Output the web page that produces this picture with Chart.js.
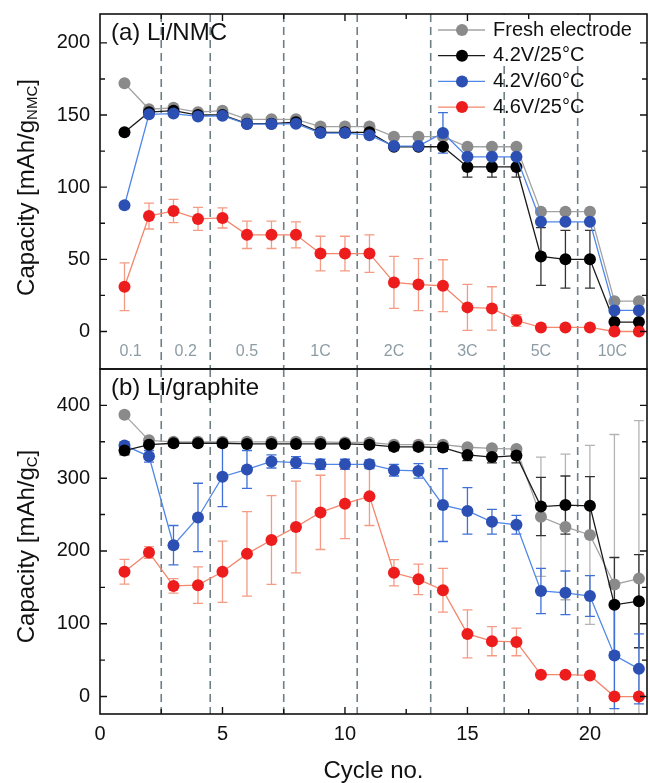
<!DOCTYPE html>
<html>
<head>
<meta charset="utf-8">
<script src="https://cdn.jsdelivr.net/npm/chart.js@4.4.1/dist/chart.umd.min.js"></script>
<style>
  body { margin: 0; background: #fff; }
  #wrap { position: relative; width: 650px; height: 783px; }
  canvas { position: absolute; left: 0; }
</style>
</head>
<body>
<div id="wrap">
  <canvas id="chartNMC" width="650" height="372" style="top:0"></canvas>
  <canvas id="chartGraphite" width="650" height="423" style="top:360px"></canvas>
</div>
<script>
// cycle numbers and C-rate groups
const cycles = [1, 2, 3, 4, 5, 6, 7, 8, 9, 10, 11, 12, 13, 14, 15, 16, 17, 18, 19, 20, 21, 22];
const rateLabels = ["0.1", "0.2", "0.5", "1C", "2C", "3C", "5C", "10C"];
const cyclesPerRate = [2, 2, 3, 3, 3, 3, 3, 3];
const seriesNames = ["Fresh electrode", "4.2V/25°C", "4.2V/60°C", "4.6V/25°C"];

// (a) Li/NMC
const nmcFresh = [172, 154, 155, 152, 153, 147, 147, 147, 142, 142, 142, 135, 135, 135, 128, 128, 128, 83, 83, 83, 21, 21];
const nmcFreshErr = [0, 0, 0, 0, 0, 0, 0, 0, 0, 0, 0, 0, 0, 0, 0, 0, 0, 0, 0, 0, 0, 0];
const nmc42v25 = [138, 152, 153, 150, 150, 144, 144, 145, 138, 138, 138, 128, 128, 128, 114, 114, 114, 52, 50, 50, 6.5, 6.5];
const nmc42v25Err = [0, 0, 0, 0, 0, 0, 0, 0, 0, 0, 0, 0, 0, 0, 7, 7, 7, 20, 20, 20, 0, 0];
const nmc42v60 = [87.5, 150.5, 151, 149, 149.5, 143.7, 143.7, 144, 137.5, 137.5, 136, 128.5, 128.5, 137.6, 121, 121, 121, 76, 76, 76, 14.6, 14.6];
const nmc42v60Err = [0, 0, 0, 0, 0, 0, 0, 0, 0, 0, 0, 0, 0, 14, 0, 0, 0, 0, 0, 0, 0, 0];
const nmc46v25 = [31, 80, 83.5, 78, 78.7, 67, 67, 67, 54, 54, 54, 34, 32.5, 31.7, 16.7, 16, 7.6, 2.8, 2.8, 2.8, 0, 0];
const nmc46v25Err = [16.5, 9, 8, 8, 7, 9.5, 9.5, 9, 12, 12, 13, 18, 18, 18, 16, 15, 4, 0, 0, 0, 0, 0];
const nmcTicks = [0, 50, 100, 150, 200];

// (b) Li/graphite
const grFresh = [387, 352, 350, 350, 350, 350, 350, 350, 350, 349, 349, 346, 346, 346, 342.5, 341, 340, 247, 233, 222, 154, 162];
const grFreshErr = [4, 3, 3, 3, 3, 3, 3, 3, 3, 3, 3, 3, 3, 3, 3, 3, 3, 82, 100, 123, 206, 217];
const gr42v25 = [338, 346, 348, 348, 348, 347, 347, 347, 347, 347, 346, 343, 343, 342, 332, 329, 331, 261, 263, 262, 126, 131];
const gr42v25Err = [6, 4, 4, 4, 4, 4, 4, 4, 4, 4, 4, 5, 5, 5, 8, 8, 10, 40, 40, 40, 65, 64];
const gr42v60 = [345, 330, 208, 246, 302, 312, 323, 321.5, 319, 319, 319, 311, 310, 263, 255, 240, 236, 145, 142.5, 138, 56.5, 38];
const gr42v60Err = [5, 8, 27, 47, 41, 26, 9, 8, 7, 7, 6, 8, 10, 50, 32, 17, 13, 31, 30, 28, 73, 48];
const gr46v25 = [171.5, 198, 152, 153, 171.5, 196, 215, 233, 253, 265, 275, 170, 161, 146, 86, 76, 75, 30, 30, 29, 0, 0];
const gr46v25Err = [17, 8, 10, 25, 42, 58, 61, 63, 51, 48, 40, 18, 21, 30, 33, 20, 19, 0, 0, 0, 0, 0];
const graphiteTicks = [0, 100, 200, 300, 400];

const cycleTicks = [0, 5, 10, 15, 20];

const FONT = "'Liberation Sans', Arial, sans-serif";
const X_MAX = 22.33;

// line / marker / error colours per series
const styles = [
    { line: "#a3a3a3", marker: "#8a8a8a", err: "#b4b4b4" },
    { line: "#1a1a1a", marker: "#000000", err: "#333333" },
    { line: "#4f86e8", marker: "#2b4fb3", err: "#3f70d8" },
    { line: "#f4866c", marker: "#ee1d1d", err: "#f59b84" }
];

// rate boundaries (dashed lines) from the group sizes
const rateBounds = [];
let runSum = 0;
cyclesPerRate.slice(0, -1).forEach(n => { runSum += n; rateBounds.push(runSum + 0.5); });

const makeDataset = (i, values, errors, order) => ({
    label: seriesNames[i],
    data: cycles.map((c, j) => ({ x: c, y: values[j] })),
    errors: errors,
    errColor: styles[i].err,
    borderColor: styles[i].line,
    backgroundColor: styles[i].marker,
    pointBackgroundColor: styles[i].marker,
    pointBorderColor: styles[i].marker,
    pointRadius: 6,
    pointBorderWidth: 0,
    borderWidth: 1.3,
    tension: 0,
    order: order
});

// draws dashed lines, error bars, frame, inward ticks and texts
const panelPlugin = {
    id: "panelDecor",
    beforeDatasetsDraw(chart) {
        const { ctx, chartArea: a, scales: { x, y } } = chart;
        ctx.save();
        ctx.strokeStyle = "#6e7f86";
        ctx.lineWidth = 1.6;
        ctx.setLineDash([8, 5]);
        rateBounds.forEach(b => {
            const px = x.getPixelForValue(b);
            ctx.beginPath();
            ctx.moveTo(px, a.top);
            ctx.lineTo(px, a.bottom);
            ctx.stroke();
        });
        ctx.restore();

        // legend box hides the dashed lines behind the first rows
        if (chart.options.plugins.panelDecor.showLegend) {
            ctx.save();
            ctx.fillStyle = "#fff";
            ctx.fillRect(436, a.top + 1, a.right - 437, 50);
            ctx.restore();
        }

        ctx.save();
        ctx.beginPath();
        ctx.rect(a.left, a.top, a.right - a.left, a.bottom - a.top);
        ctx.clip();
        ctx.lineWidth = 1.3;
        chart.data.datasets.forEach(ds => {
            ctx.strokeStyle = ds.errColor;
            ds.data.forEach((p, j) => {
                const e = ds.errors[j];
                if (!e) return;
                const px = x.getPixelForValue(p.x);
                const yTop = y.getPixelForValue(p.y + e);
                const yBot = y.getPixelForValue(p.y - e);
                ctx.beginPath();
                ctx.moveTo(px, yTop); ctx.lineTo(px, yBot);
                ctx.moveTo(px - 5, yTop); ctx.lineTo(px + 5, yTop);
                ctx.moveTo(px - 5, yBot); ctx.lineTo(px + 5, yBot);
                ctx.stroke();
            });
        });
        ctx.restore();
    },
    afterDraw(chart, args, opts) {
        const { ctx, chartArea: a, scales: { x, y } } = chart;
        ctx.save();
        // frame
        ctx.strokeStyle = "#111";
        ctx.lineWidth = 1.6;
        ctx.strokeRect(a.left, a.top, a.right - a.left, a.bottom - a.top);

        // inward ticks
        ctx.lineWidth = 1.4;
        const yVals = y.ticks.map(t => t.value);
        const yMinor = yVals.slice(1).map((v, i) => (v + yVals[i]) / 2);
        const drawY = (v, len) => {
            const py = y.getPixelForValue(v);
            ctx.beginPath();
            ctx.moveTo(a.left, py); ctx.lineTo(a.left + len, py);
            ctx.moveTo(a.right, py); ctx.lineTo(a.right - len, py);
            ctx.stroke();
        };
        yVals.forEach(v => drawY(v, 7));
        yMinor.forEach(v => drawY(v, 5));
        const xMinor = cycleTicks.map(v => v + 2.5).filter(v => v < X_MAX);
        const drawX = (v, len) => {
            const px = x.getPixelForValue(v);
            const edge = opts.xTicksAt === "top" ? a.top : a.bottom;
            const dir = opts.xTicksAt === "top" ? 1 : -1;
            ctx.beginPath();
            ctx.moveTo(px, edge); ctx.lineTo(px, edge + dir * len);
            ctx.stroke();
        };
        cycleTicks.slice(1).forEach(v => drawX(v, 7));
        xMinor.forEach(v => drawX(v, 5));

        // panel title
        ctx.fillStyle = "#111";
        ctx.font = "24px " + FONT;
        ctx.textBaseline = "middle";
        ctx.textAlign = "left";
        ctx.fillText(opts.title, a.left + 11, a.top + 19);

        // y axis title with subscript
        const mainFont = "24px " + FONT, subFont = "15px " + FONT;
        const part1 = "Capacity [mAh/g", part3 = "]";
        ctx.font = mainFont;
        const w1 = ctx.measureText(part1).width, w3 = ctx.measureText(part3).width;
        ctx.font = subFont;
        const w2 = ctx.measureText(opts.ySub).width;
        const total = w1 + w2 + w3;
        ctx.translate(27, (a.top + a.bottom) / 2 + opts.yTitleShift);
        ctx.rotate(-Math.PI / 2);
        let tx = -total / 2;
        ctx.font = mainFont;
        ctx.fillText(part1, tx, 0);
        tx += w1;
        ctx.font = subFont;
        ctx.fillText(opts.ySub, tx, 6);
        tx += w2;
        ctx.font = mainFont;
        ctx.fillText(part3, tx, 0);
        ctx.restore();

        // C-rate labels
        if (opts.showRates) {
            ctx.save();
            ctx.fillStyle = "#8c9ca4";
            ctx.font = "16px " + FONT;
            ctx.textAlign = "center";
            ctx.textBaseline = "middle";
            rateLabels.forEach((lab, i) => {
                const lo = i === 0 ? 0 : rateBounds[i - 1];
                const hi = i < rateBounds.length ? rateBounds[i] : X_MAX;
                ctx.fillText(lab, x.getPixelForValue((lo + hi) / 2), a.bottom - 17);
            });
            ctx.restore();
        }

        // legend
        if (opts.showLegend) {
            ctx.save();
            ctx.font = "20px " + FONT;
            ctx.textBaseline = "middle";
            seriesNames.forEach((name, i) => {
                const ly = 30 + i * 25.7;
                ctx.strokeStyle = styles[i].line;
                ctx.lineWidth = 1.3;
                ctx.beginPath();
                ctx.moveTo(438, ly); ctx.lineTo(485, ly);
                ctx.stroke();
                ctx.fillStyle = styles[i].marker;
                ctx.beginPath();
                ctx.arc(462, ly, 6, 0, Math.PI * 2);
                ctx.fill();
                ctx.fillStyle = "#111";
                ctx.fillText(name, 493, ly);
            });
            ctx.restore();
        }
    }
};

const noPad = s => { s.paddingTop = 0; s.paddingBottom = 0; s.paddingLeft = 0; s.paddingRight = 0; };

const buildChart = (canvasId, cfg) => new Chart(document.getElementById(canvasId), {
    type: "line",
    data: { datasets: cfg.datasets },
    options: {
        responsive: false,
        animation: false,
        events: [],
        layout: { padding: cfg.padding, autoPadding: false },
        scales: {
            x: {
                type: "linear",
                min: 0,
                max: X_MAX,
                display: cfg.showX,
                afterBuildTicks: s => { s.ticks = cycleTicks.map(v => ({ value: v })); },
                afterFit: s => { noPad(s); if (cfg.showX) s.height = 69; },
                grid: { display: false, drawTicks: false },
                border: { display: false },
                ticks: { font: { family: FONT, size: 20 }, color: "#111", padding: 8, maxRotation: 0 },
                title: {
                    display: cfg.showX,
                    text: "Cycle no.",
                    font: { family: FONT, size: 24, lineHeight: 1 },
                    color: "#111",
                    padding: { top: 0, bottom: 0 }
                }
            },
            y: {
                type: "linear",
                min: cfg.yMin,
                max: cfg.yMax,
                afterBuildTicks: s => { s.ticks = cfg.yTicks.map(v => ({ value: v })); },
                afterFit: s => { noPad(s); s.width = 100; },
                grid: { display: false, drawTicks: false },
                border: { display: false },
                ticks: { font: { family: FONT, size: 20 }, color: "#111", padding: 10 }
            }
        },
        plugins: {
            legend: { display: false },
            tooltip: { enabled: false },
            panelDecor: cfg.decor
        }
    },
    plugins: [panelPlugin]
});

buildChart("chartNMC", {
    datasets: [
        makeDataset(0, nmcFresh, nmcFreshErr, 4),
        makeDataset(1, nmc42v25, nmc42v25Err, 3),
        makeDataset(2, nmc42v60, nmc42v60Err, 2),
        makeDataset(3, nmc46v25, nmc46v25Err, 1)
    ],
    padding: { left: 0, right: 3, top: 14, bottom: 3 },
    showX: false,
    yMin: -26,
    yMax: 220,
    yTicks: nmcTicks,
    decor: { title: "(a) Li/NMC", ySub: "NMC", xTicksAt: "top", showRates: true, showLegend: true, yTitleShift: -4 }
});

buildChart("chartGraphite", {
    datasets: [
        makeDataset(0, grFresh, grFreshErr, 4),
        makeDataset(1, gr42v25, gr42v25Err, 2),
        makeDataset(2, gr42v60, gr42v60Err, 3),
        makeDataset(3, gr46v25, gr46v25Err, 1)
    ],
    padding: { left: 0, right: 3, top: 9, bottom: 0 },
    showX: true,
    yMin: -24,
    yMax: 450,
    yTicks: graphiteTicks,
    decor: { title: "(b) Li/graphite", ySub: "C", xTicksAt: "bottom", showRates: false, showLegend: false, yTitleShift: 5 }
});
</script>
</body>
</html>
